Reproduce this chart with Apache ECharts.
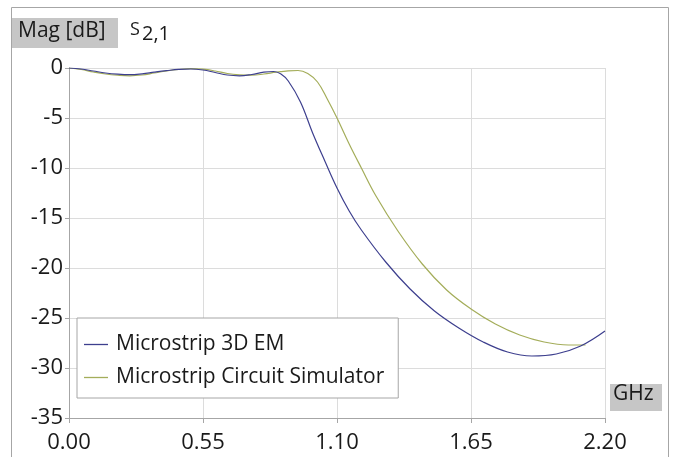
<!DOCTYPE html>
<html>
<head>
<meta charset="utf-8">
<script src="https://cdn.jsdelivr.net/npm/echarts@6/dist/echarts.min.js"></script>
<style>
  html, body { margin: 0; padding: 0; background: #fff; }
  #chart { width: 676px; height: 457px; }
</style>
</head>
<body>
<div id="chart"></div>
<script>
// S2,1 magnitude in dB vs frequency in GHz
var seriesNames = ['Microstrip 3D EM', 'Microstrip Circuit Simulator'];
var xTicks = [0, 0.55, 1.10, 1.65, 2.20];

var em3d = [
	[0, 0], [0.05, -0.1], [0.1, -0.3], [0.15, -0.5], [0.2, -0.62], [0.25, -0.67],
	[0.3, -0.58], [0.35, -0.42], [0.4, -0.27], [0.45, -0.14], [0.5, -0.1], [0.55, -0.2],
	[0.6, -0.45], [0.65, -0.7], [0.7, -0.78], [0.75, -0.65], [0.8, -0.42], [0.84, -0.35],
	[0.87, -0.6], [0.9, -1.3], [0.95, -3.4], [1.0, -6.5], [1.05, -9.3], [1.1, -12.0],
	[1.15, -14.3], [1.2, -16.2], [1.3, -19.4], [1.4, -22.1], [1.5, -24.3], [1.6, -26.0],
	[1.7, -27.4], [1.8, -28.4], [1.9, -28.8], [2.0, -28.6], [2.1, -27.8], [2.2, -26.3]
];

var circuit = [
	[0, 0], [0.05, -0.15], [0.1, -0.4], [0.15, -0.6], [0.2, -0.72], [0.25, -0.78],
	[0.3, -0.7], [0.35, -0.5], [0.4, -0.3], [0.45, -0.15], [0.5, -0.07], [0.55, -0.12],
	[0.6, -0.3], [0.65, -0.55], [0.7, -0.68], [0.75, -0.72], [0.8, -0.6], [0.85, -0.42],
	[0.9, -0.28], [0.94, -0.25], [0.98, -0.55], [1.02, -1.4], [1.06, -3.1], [1.1, -5.0],
	[1.15, -7.6], [1.2, -10.0], [1.26, -12.8], [1.35, -16.3], [1.45, -19.6], [1.55, -22.2],
	[1.65, -24.1], [1.75, -25.6], [1.85, -26.7], [1.95, -27.4], [2.05, -27.7], [2.12, -27.7]
];

var font = 'Open Sans';
var txt = '#1a1a1a';
var axisGray = '#a6a6a6';

var option = {
	animation: false,
	backgroundColor: '#fff',
	textStyle: { fontFamily: font },
	grid: { left: 69, right: 71, top: 68, bottom: 39 },
	legend: {
		left: 77,
		top: 318,
		orient: 'vertical',
		backgroundColor: '#fff',
		borderColor: axisGray,
		borderWidth: 1,
		padding: [16, 14, 10, 7],
		icon: 'rect',
		itemWidth: 24,
		itemHeight: 1.3,
		itemGap: 12,
		textStyle: { fontFamily: font, fontSize: 21, color: txt, lineHeight: 21, padding: [0, 0, 0, 3] },
		data: seriesNames
	},
	xAxis: {
		type: 'value',
		min: 0,
		max: 2.2,
		interval: 0.55,
		axisLine: { show: true, onZero: false, lineStyle: { color: axisGray } },
		axisTick: { show: true, length: 5, lineStyle: { color: axisGray } },
		splitLine: { show: true, lineStyle: { color: '#dcdcdc' } },
		axisLabel: {
			fontSize: 22, color: txt, margin: 14,
			formatter: function (v) { return v.toFixed(2); }
		}
	},
	yAxis: {
		type: 'value',
		min: -35,
		max: 0,
		interval: 5,
		axisLine: { show: true, lineStyle: { color: axisGray } },
		axisTick: { show: true, length: 4, lineStyle: { color: axisGray } },
		splitLine: { show: true, lineStyle: { color: '#dcdcdc' } },
		axisLabel: { fontSize: 22, color: txt, margin: 6 }
	},
	graphic: [
		{ type: 'rect', z: -10, shape: { x: 11.5, y: 7.5, width: 657, height: 470 },
		  style: { fill: 'none', stroke: axisGray, lineWidth: 1 } },
		{ type: 'rect', shape: { x: 12, y: 18, width: 106, height: 30 }, style: { fill: '#c6c6c6' } },
		{ type: 'text', left: 18, top: 21, style: { text: 'Mag [dB]', font: '21px "Open Sans"', fill: txt } },
		{ type: 'text', left: 130, top: 21, style: { text: 'S', font: '18px "Open Sans"', fill: txt } },
		{ type: 'text', left: 142, top: 24, style: { text: '2,1', font: '20px "Open Sans"', fill: txt } },
		{ type: 'rect', shape: { x: 610, y: 384, width: 52, height: 27 }, style: { fill: '#c6c6c6' } },
		{ type: 'text', left: 613, top: 384, style: { text: 'GHz', font: '21px "Open Sans"', fill: txt } }
	],
	series: [
		{
			name: seriesNames[1],
			type: 'line',
			data: circuit,
			showSymbol: false,
			symbol: 'none',
			smooth: 0.4,
			color: '#a4ad5a',
			lineStyle: { width: 1.2 }
		},
		{
			name: seriesNames[0],
			type: 'line',
			data: em3d,
			showSymbol: false,
			symbol: 'none',
			smooth: 0.4,
			color: '#3d3f8e',
			lineStyle: { width: 1.2 }
		}
	]
};

var myChart = echarts.init(document.getElementById('chart'));
myChart.setOption(option);
</script>
</body>
</html>
